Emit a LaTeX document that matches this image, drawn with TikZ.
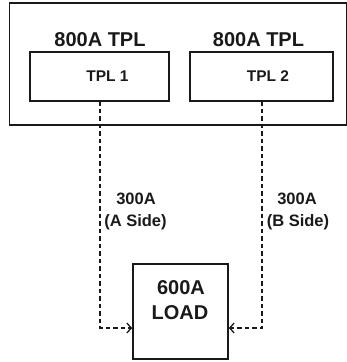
\documentclass[tikz,border=0pt]{standalone}
\usepackage{fontspec}
\setmainfont{Liberation Sans}[BoldFont={Liberation Sans Bold}]
\usetikzlibrary{arrows.meta}
\begin{document}
\begin{tikzpicture}[x=1pt,y=-1pt,
  box/.style={draw=black!90,line width=1.6pt,inner sep=0pt},
  lbl/.style={anchor=base,inner sep=0pt,text=black!90},
  conn/.style={draw=black!90,line width=1.3pt,dash pattern=on 4.5pt off 3pt,
    -{Straight Barb[length=4.5pt,width=10pt,line width=1.3pt]}}]
\useasboundingbox (0,0) rectangle (347,362);
\node[box,minimum width=337pt,minimum height=122pt] (outer) at (178,64) {};
\node[box,minimum width=139pt,minimum height=49pt] (tpl1) at (99.5,76.5) {};
\node[box,minimum width=143pt,minimum height=49pt] (tpl2) at (261.5,76.5) {};
\node[box,minimum width=95pt,minimum height=95pt] (load) at (180.5,311.5) {};
\node[lbl,font=\fontsize{20}{24}\selectfont\bfseries] (h1) at (100,46.7) {800A TPL};
\node[lbl,font=\fontsize{20}{24}\selectfont\bfseries] (h2) at (258.5,46.7) {800A TPL};
\node[lbl,font=\fontsize{15.5}{18}\selectfont\bfseries] (t1) at (107.5,81.7) {TPL 1};
\node[lbl,font=\fontsize{15.5}{18}\selectfont\bfseries] (t2) at (268,81.7) {TPL 2};
\node[lbl,font=\fontsize{20}{24}\selectfont\bfseries] (l1) at (181,294) {600A};
\node[lbl,font=\fontsize{20}{24}\selectfont\bfseries] (l2) at (180,319) {LOAD};
\node[lbl,font=\fontsize{16.5}{20}\selectfont\bfseries] (a1) at (136,204) {300A};
\node[lbl,font=\fontsize{16.5}{20}\selectfont\bfseries] (a2) at (135.5,226) {(A Side)};
\node[lbl,font=\fontsize{16.5}{20}\selectfont\bfseries] (b1) at (297,204) {300A};
\node[lbl,font=\fontsize{16.5}{20}\selectfont\bfseries] (b2) at (298,226) {(B Side)};
\coordinate (pa) at (100,101);
\coordinate (pb) at (262,101);
\draw[conn] (pa) |- ([yshift=-16.5pt]load.west);
\draw[conn] (pb) |- ([yshift=-16.5pt]load.east);
\end{tikzpicture}
\end{document}
